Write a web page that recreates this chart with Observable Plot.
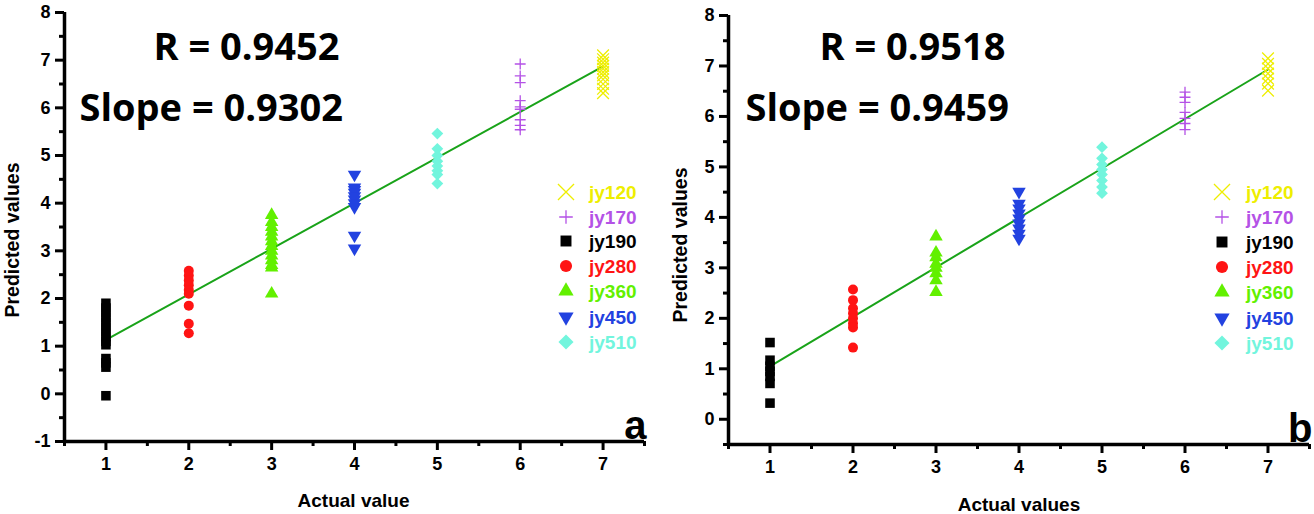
<!DOCTYPE html>
<html><head><meta charset="utf-8">
<script src="https://cdn.jsdelivr.net/npm/d3@7"></script>
<script src="https://cdn.jsdelivr.net/npm/@observablehq/plot@0.6"></script>
<style>
body{margin:0;background:#fff;}
#wrap{display:flex;width:1314px;height:514px;overflow:hidden;}
.panel{position:relative;width:657px;height:514px;}
.legend{position:absolute;left:0;top:0;}
</style></head><body><div id="wrap"></div>
<script>
// ---- data ----
const series = ["jy120","jy170","jy190","jy280","jy360","jy450","jy510"];
const actualValue = [7, 6, 1, 2, 3, 4, 5];
const colors = ["#eeee00","#b452e6","#000000","#ff1414","#62f000","#2242e0","#72f5dd"];
const xTicks = [1,2,3,4,5,6,7];
const xMinorTicks = [0.5,1.5,2.5,3.5,4.5,5.5,6.5,7.5];

// panel a: predicted values per series (same order as `series`)
const a120 = [7.1, 7.02, 6.95, 6.88, 6.82, 6.75, 6.68, 6.6, 6.5, 6.4, 6.31];
const a170 = [6.92, 6.67, 6.53, 6.15, 6.02, 5.97, 5.75, 5.63, 5.54];
const a190 = [1.9, 1.8, 1.7, 1.6, 1.5, 1.4, 1.3, 1.2, 1.1, 1.03, 0.74, 0.65, 0.56, -0.04];
const a280 = [2.58, 2.48, 2.38, 2.28, 2.18, 2.1, 1.85, 1.47, 1.27];
const a360 = [3.75, 3.6, 3.5, 3.4, 3.3, 3.2, 3.1, 3.0, 2.9, 2.8, 2.7, 2.65, 2.1];
const a450 = [4.6, 4.33, 4.28, 4.22, 4.15, 4.08, 4.0, 3.92, 3.32, 3.05];
const a510 = [5.46, 5.14, 5.0, 4.88, 4.78, 4.68, 4.6, 4.41];
const aFitX = [1, 7];
const aFitY = [1.13, 6.87];
const aYTicks = [-1,0,1,2,3,4,5,6,7,8];
const aYMinor = [-0.5,0.5,1.5,2.5,3.5,4.5,5.5,6.5,7.5];

// panel b
const b120 = [7.15, 7.04, 6.95, 6.85, 6.75, 6.65, 6.51];
const b170 = [6.48, 6.38, 6.28, 6.08, 5.96, 5.86, 5.74];
const b190 = [1.52, 1.17, 1.05, 0.95, 0.85, 0.71, 0.32];
const b280 = [2.57, 2.36, 2.2, 2.1, 2.0, 1.9, 1.82, 1.42];
const b360 = [3.62, 3.3, 3.21, 3.08, 3.0, 2.89, 2.75, 2.52];
const b450 = [4.51, 4.27, 4.18, 4.08, 3.98, 3.88, 3.78, 3.68, 3.58];
const b510 = [5.39, 5.17, 5.05, 4.95, 4.85, 4.73, 4.6, 4.48];
const bFitX = [1, 7];
const bFitY = [1.05, 6.93];
const bYTicks = [0,1,2,3,4,5,6,7,8];
const bYMinor = [-0.5,0.5,1.5,2.5,3.5,4.5,5.5,6.5,7.5];

// ---- symbols ----
const triangleDown = {
  draw(context, size) {
    const s3 = Math.sqrt(3);
    const y = -Math.sqrt(size / (s3 * 3));
    context.moveTo(0, -y * 2);
    context.lineTo(-s3 * y, y);
    context.lineTo(s3 * y, y);
    context.closePath();
  }
};
const plotSymbols = ["times","plus","square","circle","triangle",triangleDown,"diamond2"];
const d3Symbols = [d3.symbolTimes, d3.symbolPlus, d3.symbolSquare, d3.symbolCircle, d3.symbolTriangle, triangleDown, d3.symbolDiamond2];
const strokeOnly = [true, true, false, false, false, false, false];
const dotR = [5.4, 3.6, 5.4, 5, 5, 5, 5.3];
const legendSize = [170, 62, 120, 115, 100, 100, 145];

const FONT = "'Liberation Sans', Arial, sans-serif";

function makePanel(cfg) {
  const marks = [];
  // axis lines
  marks.push(Plot.ruleY([cfg.yDomain[0]], {stroke: "#000", strokeWidth: 3.5}));
  marks.push(Plot.ruleX([0.5], {stroke: "#000", strokeWidth: 3.5}));
  // tick marks
  marks.push(Plot.axisX({ticks: xTicks, tickSize: 9, tickFormat: () => "", strokeWidth: 3, label: null, anchor: "bottom"}));
  marks.push(Plot.axisX({ticks: xMinorTicks, tickSize: 5, tickFormat: () => "", strokeWidth: 3, label: null, anchor: "bottom"}));
  marks.push(Plot.axisY({ticks: cfg.yTicks, tickSize: 9, tickFormat: () => "", strokeWidth: 3, label: null, anchor: "left"}));
  marks.push(Plot.axisY({ticks: cfg.yMinor, tickSize: 5, tickFormat: () => "", strokeWidth: 3, label: null, anchor: "left"}));
  // tick labels
  marks.push(Plot.text(xTicks, {x: d => d, text: d => String(d), frameAnchor: "bottom", dy: 23, lineAnchor: "middle", textAnchor: "middle", fontSize: 18, fontWeight: "bold", fontFamily: FONT, fill: "#000"}));
  marks.push(Plot.text(cfg.yTicks, {y: d => d, text: d => String(d), frameAnchor: "left", dx: -14, lineAnchor: "middle", textAnchor: "end", fontSize: 18, fontWeight: "bold", fontFamily: FONT, fill: "#000"}));
  // fit line
  marks.push(Plot.line(cfg.fitX.map((x, i) => ({x, y: cfg.fitY[i]})), {x: "x", y: "y", stroke: "#19a319", strokeWidth: 2}));
  // data
  cfg.values.forEach((vals, i) => {
    const data = vals.map(v => ({actual: actualValue[i], predicted: v}));
    const opts = {x: "actual", y: "predicted", symbol: plotSymbols[i], r: dotR[i]};
    if (strokeOnly[i]) { opts.stroke = colors[i]; opts.fill = "none"; opts.strokeWidth = 1.3; }
    else { opts.fill = colors[i]; opts.stroke = "none"; }
    marks.push(Plot.dot(data, opts));
  });
  // annotations
  marks.push(Plot.text([cfg.rText], {text: d => d, frameAnchor: "top-left", dx: cfg.rDx, dy: cfg.rDy, textAnchor: "start", lineAnchor: "middle", fontSize: 38, fontWeight: "bold", fontFamily: "'Open Sans', sans-serif", fill: "#000"}));
  marks.push(Plot.text([cfg.slopeText], {text: d => d, frameAnchor: "top-left", dx: cfg.sDx, dy: cfg.sDy, textAnchor: "start", lineAnchor: "middle", fontSize: 38, fontWeight: "bold", fontFamily: "'Open Sans', sans-serif", fill: "#000"}));
  marks.push(Plot.text([cfg.letter], {text: d => d, frameAnchor: "bottom-right", dx: cfg.letterDx, dy: -3, textAnchor: "end", lineAnchor: "bottom", fontSize: 40, fontWeight: "bold", fontFamily: FONT, fill: "#000"}));
  // axis titles
  marks.push(Plot.text([cfg.yLabel], {text: d => d, frameAnchor: "left", dx: cfg.yLabDx, dy: cfg.yLabDy, rotate: -90, textAnchor: "middle", lineAnchor: "middle", fontSize: 19.5, fontWeight: "bold", fontFamily: FONT, fill: "#000"}));
  marks.push(Plot.text([cfg.xLabel], {text: d => d, frameAnchor: "bottom", dx: cfg.xLabDx, dy: cfg.xLabDy, textAnchor: "middle", lineAnchor: "middle", fontSize: 19, fontWeight: "bold", fontFamily: FONT, fill: "#000"}));

  const chart = Plot.plot({
    width: 657, height: 514,
    marginLeft: cfg.ml, marginRight: cfg.mr, marginTop: cfg.mt, marginBottom: cfg.mb,
    x: {domain: [0.5, 7.5], axis: null},
    y: {domain: cfg.yDomain, axis: null},
    style: {fontFamily: FONT, fontWeight: "bold", background: "#fff", color: "#000", overflow: "visible"},
    marks
  });

  const div = document.createElement("div");
  div.className = "panel";
  div.appendChild(chart);

  // legend overlay
  const lg = d3.create("svg").attr("class", "legend").attr("width", 657).attr("height", 514);
  series.forEach((name, i) => {
    const yy = cfg.legendY[i];
    const path = lg.append("path")
      .attr("transform", `translate(${cfg.legendSymX},${yy})`)
      .attr("d", d3.symbol().type(d3Symbols[i]).size(legendSize[i])());
    if (strokeOnly[i]) path.attr("fill", "none").attr("stroke", colors[i]).attr("stroke-width", 1.3);
    else path.attr("fill", colors[i]);
    lg.append("text")
      .attr("x", cfg.legendTextX).attr("y", yy).attr("dy", "0.36em")
      .attr("fill", colors[i])
      .attr("font-family", FONT).attr("font-weight", "bold").attr("font-size", 19)
      .text(name);
  });
  div.appendChild(lg.node());
  return div;
}

const wrap = document.getElementById("wrap");
wrap.appendChild(makePanel({
  ml: 64, mr: 13, mt: 12, mb: 73,
  yDomain: [-1, 8], yTicks: aYTicks, yMinor: aYMinor,
  values: [a120, a170, a190, a280, a360, a450, a510],
  fitX: aFitX, fitY: aFitY,
  rText: "R = 0.9452", slopeText: "Slope = 0.9302",
  rDx: 89, rDy: 35, sDx: 15, sDy: 96,
  letter: "a", letterDx: 2,
  yLabel: "Predicted values", yLabDx: -52, yLabDy: 13,
  xLabel: "Actual value", xLabDx: -1, xLabDy: 59,
  legendSymX: 566, legendTextX: 589,
  legendY: [192, 217, 241, 266, 291, 317, 342]
}));
wrap.appendChild(makePanel({
  ml: 71, mr: 5, mt: 15, mb: 70,
  yDomain: [-0.5, 8], yTicks: bYTicks, yMinor: bYMinor,
  values: [b120, b170, b190, b280, b360, b450, b510],
  fitX: bFitX, fitY: bFitY,
  rText: "R = 0.9518", slopeText: "Slope = 0.9459",
  rDx: 91, rDy: 32, sDx: 17, sDy: 93,
  letter: "b", letterDx: 3,
  yLabel: "Predicted values", yLabDx: -48, yLabDy: 15,
  xLabel: "Actual values", xLabDx: 0, xLabDy: 60,
  legendSymX: 565, legendTextX: 589,
  legendY: [192, 217, 242, 267, 292, 318, 343]
}));
</script></body></html>
